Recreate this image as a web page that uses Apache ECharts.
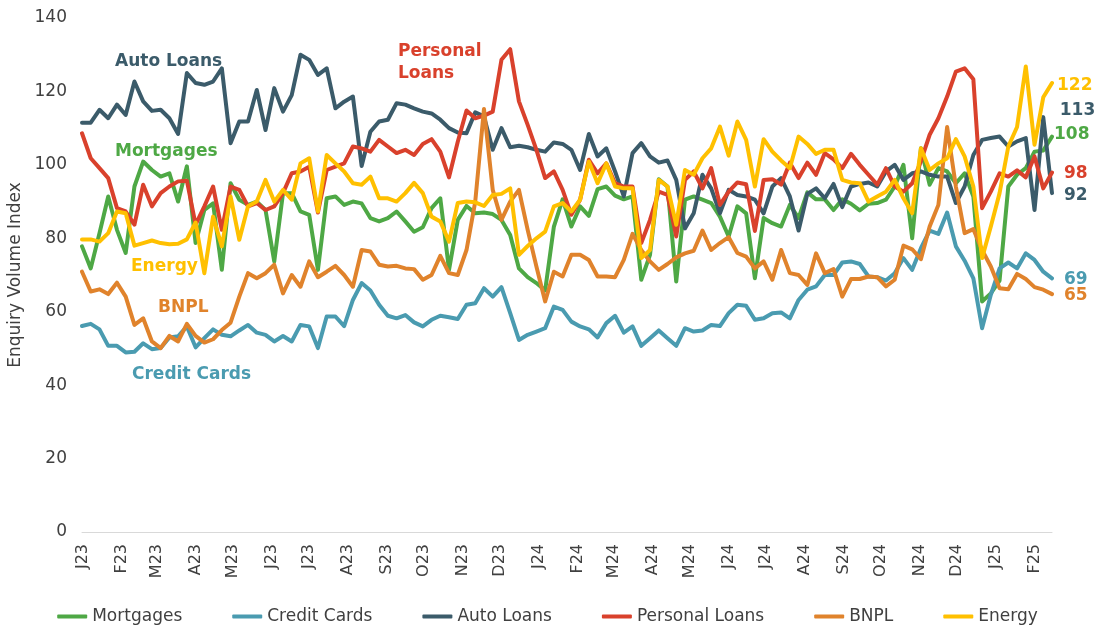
<!DOCTYPE html>
<html>
<head>
<meta charset="utf-8">
<title>Enquiry Volume Index</title>
<script src="https://cdn.jsdelivr.net/npm/echarts@6/dist/echarts.min.js"></script>
<style>
  html, body { margin: 0; padding: 0; background: #fff; }
  #chart { width: 1095px; height: 630px; }
</style>
</head>
<body>
<div id="chart"></div>
<script>
  // weekly observations, Jan 2023 - Feb 2025
  const weeks = [
    "2022-12-31", "2023-01-07", "2023-01-14", "2023-01-21", "2023-01-28", "2023-02-04", "2023-02-11", "2023-02-18",
    "2023-02-25", "2023-03-04", "2023-03-11", "2023-03-18", "2023-03-25", "2023-04-01", "2023-04-08", "2023-04-15",
    "2023-04-22", "2023-04-29", "2023-05-06", "2023-05-13", "2023-05-20", "2023-05-27", "2023-06-03", "2023-06-10",
    "2023-06-17", "2023-06-24", "2023-07-01", "2023-07-08", "2023-07-15", "2023-07-22", "2023-07-29", "2023-08-05",
    "2023-08-12", "2023-08-19", "2023-08-26", "2023-09-02", "2023-09-09", "2023-09-16", "2023-09-23", "2023-09-30",
    "2023-10-07", "2023-10-14", "2023-10-21", "2023-10-28", "2023-11-04", "2023-11-11", "2023-11-18", "2023-11-25",
    "2023-12-02", "2023-12-09", "2023-12-16", "2023-12-23", "2023-12-30", "2024-01-06", "2024-01-13", "2024-01-20",
    "2024-01-27", "2024-02-03", "2024-02-10", "2024-02-17", "2024-02-24", "2024-03-02", "2024-03-09", "2024-03-16",
    "2024-03-23", "2024-03-30", "2024-04-06", "2024-04-13", "2024-04-20", "2024-04-27", "2024-05-04", "2024-05-11",
    "2024-05-18", "2024-05-25", "2024-06-01", "2024-06-08", "2024-06-15", "2024-06-22", "2024-06-29", "2024-07-06",
    "2024-07-13", "2024-07-20", "2024-07-27", "2024-08-03", "2024-08-10", "2024-08-17", "2024-08-24", "2024-08-31",
    "2024-09-07", "2024-09-14", "2024-09-21", "2024-09-28", "2024-10-05", "2024-10-12", "2024-10-19", "2024-10-26",
    "2024-11-02", "2024-11-09", "2024-11-16", "2024-11-23", "2024-11-30", "2024-12-07", "2024-12-14", "2024-12-21",
    "2024-12-28", "2025-01-04", "2025-01-11", "2025-01-18", "2025-01-25", "2025-02-01", "2025-02-08", "2025-02-15"
  ]

  const mortgages = [
    77.8, 71.8, 81.4, 91.4, 82.3, 76, 94.1, 100.9, 98.6, 96.8, 97.7, 90, 99.6, 78.7, 87.7, 89.5, 71.4, 95, 90.5,
    89.1, 90, 87.7, 73.7, 92.3, 92.3, 87.3, 86.4, 71.4, 90.9, 91.4, 89.1, 90, 89.5, 85.5, 84.6, 85.5, 87.3, 84.6,
    81.8, 83, 88.2, 90.9, 71.4, 85, 88.8, 86.8, 87, 86.6, 85, 80.9, 71.8, 69.4, 67.8, 65.8, 83.2, 90.6, 83.2,
    88.7, 86.1, 93.4, 94.1, 91.6, 90.6, 91.4, 68.7, 75.5, 96.1, 94.1, 68.2, 90.5, 91.4, 90.5, 89.6, 85.9, 80.5, 88.7,
    86.8, 69.1, 85.5, 84.1, 83.2, 89.1, 85.5, 92.5, 90.6, 90.6, 87.7, 90.6, 89.4, 87.6, 89.4, 89.6, 90.5, 94.1, 100,
    80, 104.5, 94.6, 99.1, 98.2, 95, 97.7, 91.4, 62.8, 65, 68.5, 94.1, 97.3, 99.1, 103.6, 103.9, 107.7
  ]

  const creditCards = [
    56.1, 56.7, 55.2, 50.7, 50.7, 48.9, 49.1, 51.4, 49.8, 50.1, 53, 53.3, 56, 50.3, 52.8, 55.2, 53.7, 53.3, 54.9,
    56.4, 54.3, 53.7, 51.9, 53.4, 51.9, 56.4, 56, 50.1, 58.7, 58.7, 56.1, 63.2, 67.8, 65.8, 61.9, 58.9, 58.2, 59.1,
    57.1, 56, 57.8, 58.9, 58.5, 58, 61.9, 62.3, 66.4, 64.1, 66.7, 59.6, 52.3, 53.7, 54.6, 55.5, 61.4, 60.5, 57.3,
    56, 55.2, 53, 56.9, 58.9, 54.3, 56, 50.7, 52.8, 54.9, 52.8, 50.7, 55.5, 54.6, 54.9, 56.4, 56.1, 59.6, 61.9,
    61.6, 57.8, 58.2, 59.6, 59.8, 58.2, 63.2, 66, 66.9, 70, 70, 73.4, 73.7, 73, 69.6, 69.4, 68.5, 70.5, 74.6,
    71.4, 77.3, 82.1, 81.2, 87, 77.8, 73.9, 69.1, 55.5, 64.6, 71.8, 73.4, 71.8, 75.9, 74.1, 70.9, 69.1
  ]

  const autoLoans = [
    111.5, 111.5, 115, 112.7, 116.4, 113.6, 122.7, 117.3, 114.7, 115, 112.7, 108.4, 125, 122.3, 121.8, 122.7, 126.3, 105.9, 111.8,
    111.8, 120.4, 109.5, 120.9, 114.5, 119, 130, 128.6, 124.5, 126.3, 115.4, 117.2, 118.6, 99.7, 109, 111.8, 112.3, 116.8, 116.4,
    115.4, 114.5, 114, 112.3, 110, 108.8, 108.6, 114.3, 113.2, 104.1, 110, 104.8, 105.2, 104.8, 104.1, 103.6, 106.1, 105.7, 104.1,
    98.6, 108.4, 102.3, 104.5, 98.2, 91.4, 103.2, 105.9, 102.3, 100.6, 101.2, 95.9, 82.7, 86.8, 97.3, 93.6, 86.8, 93.2, 91.8,
    91.4, 90.5, 86.8, 94.1, 96.4, 91.4, 82.1, 92.1, 93.6, 90.9, 94.8, 88.5, 94.1, 94.8, 95.2, 94.1, 98.2, 100, 95.9,
    97.7, 98.2, 97.3, 96.8, 96.8, 89.6, 94.1, 102.7, 106.8, 107.3, 107.7, 105, 106.4, 107.3, 87.7, 113, 92.3
  ]

  const personalLoans = [
    108.6, 101.8, 99.1, 96.4, 88.2, 87.3, 83.7, 94.6, 88.7, 92.3, 94.1, 95.5, 95.7, 83.7, 88.7, 94.1, 82.3, 94.1, 93.2,
    88.7, 89.6, 87.7, 88.7, 92.3, 97.7, 98.2, 99.5, 87, 98.6, 99.5, 100.4, 105, 104.5, 103.6, 106.8, 105, 103.2, 104.1,
    102.7, 105.7, 107, 103.6, 96.6, 106.3, 114.8, 112.7, 113.4, 114.5, 128.6, 131.5, 117.3, 110.9, 104.1, 96.4, 98.2, 93.2, 86.4,
    90.5, 101.4, 97.7, 100.4, 95, 94.1, 94.1, 78.7, 85, 92.7, 91.8, 80.5, 95.9, 98.2, 93.6, 99.1, 89.1, 92.7, 95.2,
    94.7, 82, 95.9, 96.1, 94.6, 100.6, 96.4, 100.6, 97.3, 103.2, 101.5, 99.1, 103, 100, 97.3, 94.6, 99.1, 94.1, 92.7,
    95, 101, 108.2, 112.7, 118.6, 125.4, 126.3, 123.3, 88.2, 92.7, 97.7, 96.8, 98.5, 96.6, 102.3, 93.6, 97.9
  ]

  const bnpl = [
    70.9, 65.5, 66.1, 64.8, 67.9, 64.1, 56.4, 58.2, 51.9, 50.1, 53.4, 51.9, 56.7, 53.4, 51.6, 52.5, 55, 57, 64.1,
    70.5, 69.1, 70.5, 72.8, 65, 70, 66.8, 73.7, 69.4, 70.9, 72.5, 70, 66.8, 76.8, 76.4, 72.8, 72.3, 72.5, 71.8,
    71.6, 68.7, 70, 75.2, 70.5, 70, 76.8, 90, 115.2, 93.2, 85, 90, 93.2, 82.3, 72.3, 62.8, 70.9, 69.6, 75.5,
    75.5, 74.1, 69.6, 69.6, 69.4, 74.1, 81.2, 76.8, 73.7, 71.4, 73, 74.8, 75.9, 76.6, 82.1, 76.8, 78.7, 80.3, 76,
    75, 71.8, 73.7, 68.7, 76.8, 70.5, 70, 67.3, 75.9, 70.5, 71.6, 64.1, 68.9, 68.9, 69.6, 69.4, 66.9, 68.7, 78,
    77, 74.3, 83.2, 89.1, 110.3, 94.1, 81.4, 82.5, 76.8, 72.3, 66.4, 66.1, 70.3, 68.9, 66.7, 66, 64.8
  ]

  const energy = [
    79.7, 79.7, 79.1, 81.4, 87.3, 86.8, 78, 78.7, 79.4, 78.7, 78.4, 78.5, 79.7, 84.3, 70.5, 85.9, 77.8, 91.4, 79.6,
    88.7, 90, 95.9, 90, 93.2, 90.5, 100.4, 101.8, 87.3, 102.7, 100.4, 98.2, 95, 94.6, 96.8, 90.9, 90.9, 90, 92.3,
    95.1, 92.3, 85.9, 84.6, 79.1, 89.6, 90, 89.8, 88.8, 91.8, 92.1, 93.6, 75.5, 77.9, 80, 81.8, 88.7, 89.6, 87.3,
    90.5, 100.9, 95, 100.4, 94.1, 93.6, 93.6, 74.6, 76.8, 95.9, 94.1, 83.7, 98.6, 97.3, 101.8, 104.5, 110.4, 102.5, 111.8,
    106.8, 94.1, 107, 103.6, 101.2, 99.1, 107.7, 105.7, 103, 104.1, 104.1, 95.9, 95.2, 95, 90, 91.4, 92.7, 95.9, 90.9,
    86.8, 104.5, 98.6, 100.4, 101.8, 107, 102.3, 94.1, 74.6, 83.2, 92.3, 105, 110.3, 126.8, 105.5, 118.4, 122.3
  ]

  const monthLetters = ["J", "F", "M", "A", "M", "J", "J", "A", "S", "O", "N", "D"]

  const FONT = "DejaVu Sans"
  const TEXT_GREY = "#404040"
  const DAY = 24 * 3600 * 1000

  const toTime = (s) => Date.parse(s + "T00:00:00Z")

  const colors = {
    mortgages: "#4EA845",
    credit: "#4A9BB0",
    auto: "#3B5B6A",
    personal: "#D9412C",
    bnpl: "#E0832C",
    energy: "#FFC000"
  }

  const chart = echarts.init(document.getElementById("chart"))

  const makeSeries = (name, values, color, labelDistance, labelOffset) => ({
    name,
    type: "line",
    data: values.map((v, i) => [toTime(weeks[i]), v]),
    symbol: "none",
    showSymbol: false,
    lineStyle: { width: 4, color, cap: "round", join: "round" },
    itemStyle: { color },
    emphasis: { disabled: true },
    endLabel: {
      show: true,
      formatter: p => Math.round(p.value[1]),
      color,
      fontFamily: FONT,
      fontWeight: "bold",
      fontSize: 17,
      distance: labelDistance,
      offset: labelOffset
    }
  })

  const autoSeries = makeSeries("Auto Loans", autoLoans, colors.auto, 12, [0, 2])
  // the earlier Auto Loans peak is labelled as well
  autoSeries.markPoint = {
    symbol: "circle",
    symbolSize: 1,
    itemStyle: { color: "rgba(0,0,0,0)" },
    label: {
      show: true,
      position: "right",
      distance: 16,
      offset: [0, -7],
      formatter: p => Math.round(p.value),
      color: colors.auto,
      fontFamily: FONT,
      fontWeight: "bold",
      fontSize: 17
    },
    data: [{ coord: [toTime(weeks[110]), autoLoans[110]], value: autoLoans[110] }]
  }

  const annotation = (text, left, top, color) => ({
    type: "text",
    left,
    top,
    silent: true,
    style: {
      text,
      fill: color,
      font: "bold 17px '" + FONT + "'",
      lineHeight: 22
    }
  })

  chart.setOption({
    animation: false,
    useUTC: true,
    textStyle: { fontFamily: FONT },
    grid: { left: 82, right: 43, top: 18, bottom: 98, containLabel: false, outerBoundsMode: "none" },
    legend: {
      left: "center",
      top: 603,
      itemWidth: 30,
      itemHeight: 4,
      itemGap: 50,
      icon: "roundRect",
      textStyle: { fontFamily: FONT, fontSize: 17, color: TEXT_GREY },
      data: ["Mortgages", "Credit Cards", "Auto Loans", "Personal Loans", "BNPL", "Energy"]
    },
    xAxis: {
      type: "time",
      min: toTime(weeks[0]),
      max: toTime(weeks[weeks.length - 1]),
      splitNumber: 26,
      minInterval: 28 * DAY,
      maxInterval: 31 * DAY,
      axisLine: { lineStyle: { color: "#D9D9D9", width: 1 } },
      axisTick: { show: false },
      splitLine: { show: false },
      axisLabel: {
        rotate: 90,
        margin: 12,
        fontSize: 16,
        color: TEXT_GREY,
        hideOverlap: false,
        showMinLabel: false,
        showMaxLabel: false,
        formatter: value => {
          const d = new Date(value)
          if (d.getUTCDate() !== 1) {
            return ""
          }
          return monthLetters[d.getUTCMonth()] + String(d.getUTCFullYear()).slice(2)
        }
      }
    },
    yAxis: {
      type: "value",
      min: 0,
      max: 140,
      interval: 20,
      name: "Enquiry Volume Index",
      nameLocation: "middle",
      nameGap: 55,
      nameTextStyle: { fontSize: 17, color: TEXT_GREY },
      axisLine: { show: false },
      axisTick: { show: false },
      splitLine: { show: false },
      axisLabel: { fontSize: 17, color: TEXT_GREY, margin: 15 }
    },
    series: [
      makeSeries("Mortgages", mortgages, colors.mortgages, 2, [0, -2]),
      makeSeries("Credit Cards", creditCards, colors.credit, 12, [0, 1]),
      autoSeries,
      makeSeries("Personal Loans", personalLoans, colors.personal, 12, [0, 1]),
      makeSeries("BNPL", bnpl, colors.bnpl, 12, [0, 1]),
      makeSeries("Energy", energy, colors.energy, 5, [0, 3])
    ],
    graphic: [
      annotation("Auto Loans", 115, 51, colors.auto),
      annotation("Personal\nLoans", 398, 41, colors.personal),
      annotation("Mortgages", 115, 141, colors.mortgages),
      annotation("Energy", 131, 256, colors.energy),
      annotation("BNPL", 158, 297, colors.bnpl),
      annotation("Credit Cards", 132, 364, colors.credit)
    ]
  })

  window.addEventListener("resize", () => {
    chart && chart.resize()
  })
</script>
</body>
</html>
